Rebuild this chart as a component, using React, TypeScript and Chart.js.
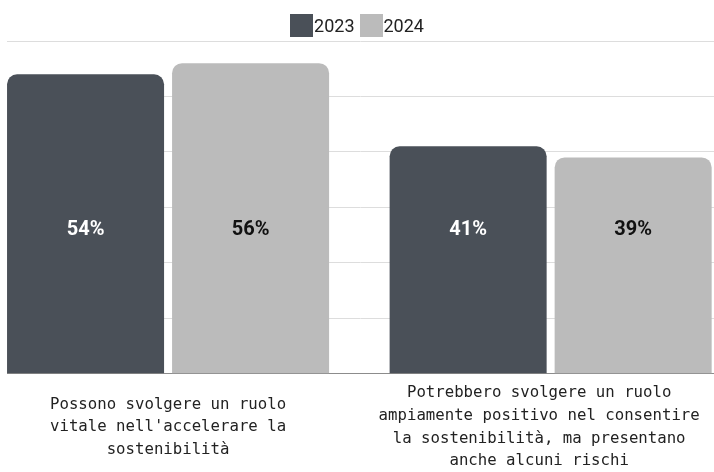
import React, { useEffect, useRef } from 'react';
import { Chart, registerables } from 'chart.js';

Chart.register(...registerables);

// ---- Data ----
const categories: string[][] = [
  ['Possono svolgere un ruolo', "vitale nell'accelerare la", 'sostenibilità'],
  ['Potrebbero svolgere un ruolo', 'ampiamente positivo nel consentire', 'la sostenibilità, ma presentano', 'anche alcuni rischi'],
];
const seriesNames = ['2023', '2024'];
const values2023 = [54, 41];
const values2024 = [56, 39];
const yTickValues = [0, 10, 20, 30, 40, 50, 60];

// ---- Style ----
const seriesColors = ['#4a5058', '#bbbbbb'];
const valueLabelColors = ['#ffffff', '#111111'];
const LABEL_LEVEL = 26; // value-axis level where the percentage labels sit
const X_MIN = -0.421;
const X_MAX = 1.427;
const TICK_LABEL_NUDGE = [0, -0.03]; // small horizontal nudge of category labels
// bar ruler follows the (nudged) tick spacing, so compensate group width
const TICK_SPAN = 1 + TICK_LABEL_NUDGE[1] - TICK_LABEL_NUDGE[0];
const CATEGORY_PCT = 0.8627 / TICK_SPAN;
const BAR_PCT = 0.9515;

const valueLabelPlugin = {
  id: 'valueLabels',
  afterDatasetsDraw(chart: any) {
    const { ctx } = chart;
    const y = chart.scales.y.getPixelForValue(LABEL_LEVEL);
    chart.data.datasets.forEach((ds: any, di: number) => {
      const meta = chart.getDatasetMeta(di);
      meta.data.forEach((bar: any, i: number) => {
        ctx.save();
        ctx.font = 'bold 20px Roboto';
        ctx.fillStyle = valueLabelColors[di];
        ctx.textAlign = 'center';
        ctx.textBaseline = 'middle';
        ctx.fillText(ds.data[i].y + '%', bar.x, y);
        ctx.restore();
      });
    });
  },
};

export default function App() {
  const canvasRef = useRef<HTMLCanvasElement | null>(null);

  useEffect(() => {
    document.body.style.margin = '0';
    const series = [values2023, values2024];
    const chart = new Chart(canvasRef.current!, {
      type: 'bar',
      data: {
        datasets: series.map((vals, si) => ({
          label: seriesNames[si],
          data: vals.map((v, i) => ({ x: i, y: v })),
          backgroundColor: seriesColors[si],
          borderRadius: 10,
          borderSkipped: 'start',
          categoryPercentage: CATEGORY_PCT,
          barPercentage: BAR_PCT,
        })),
      },
      options: {
        responsive: false,
        animation: false,
        layout: { padding: { left: 7, right: 0, top: 41, bottom: -31.5 } },
        plugins: {
          legend: { display: false },
          tooltip: { enabled: false },
        },
        scales: {
          x: {
            type: 'linear',
            min: X_MIN,
            max: X_MAX,
            offset: false,
            grid: { display: false, drawTicks: false },
            border: { display: true, color: '#8c8c8c', width: 1 },
            afterBuildTicks: (axis: any) => {
              axis.ticks = categories.map((_, i) => ({ value: i + TICK_LABEL_NUDGE[i] }));
            },
            afterFit: (axis: any) => {
              axis.paddingLeft = 0;
              axis.paddingRight = 0;
            },
            ticks: {
              autoSkip: false,
              maxRotation: 0,
              minRotation: 0,
              crossAlign: 'center',
              padding: 19.5,
              color: '#222222',
              font: { family: 'DejaVu Sans Mono', size: 15.7, lineHeight: 1.446 },
              callback: (v: any, idx: number) => categories[idx] ?? '',
            },
          },
          y: {
            min: yTickValues[0],
            max: yTickValues[yTickValues.length - 1],
            afterBuildTicks: (axis: any) => {
              axis.ticks = yTickValues.map((v) => ({ value: v }));
            },
            ticks: { display: false },
            grid: { color: '#dddddd', drawTicks: false },
            border: { display: false },
          },
        },
      },
      plugins: [valueLabelPlugin],
    } as any);
    return () => chart.destroy();
  }, []);

  return (
    <div style={{ position: 'relative', width: 714, height: 472 }}>
      <canvas ref={canvasRef} width={714} height={472} style={{ display: 'block' }} />
      <div
        style={{
          position: 'absolute',
          top: 14,
          left: 0,
          width: 714,
          display: 'flex',
          justifyContent: 'center',
          gap: 5,
          fontFamily: 'Roboto',
          fontSize: 18,
          color: '#222222',
          lineHeight: '23px',
        }}
      >
        {seriesNames.map((name, i) => (
          <div key={name} style={{ display: 'flex', alignItems: 'center' }}>
            <span style={{ width: 23, height: 23, background: seriesColors[i], display: 'inline-block', marginRight: 1 }} />
            <span>{name}</span>
          </div>
        ))}
      </div>
    </div>
  );
}
